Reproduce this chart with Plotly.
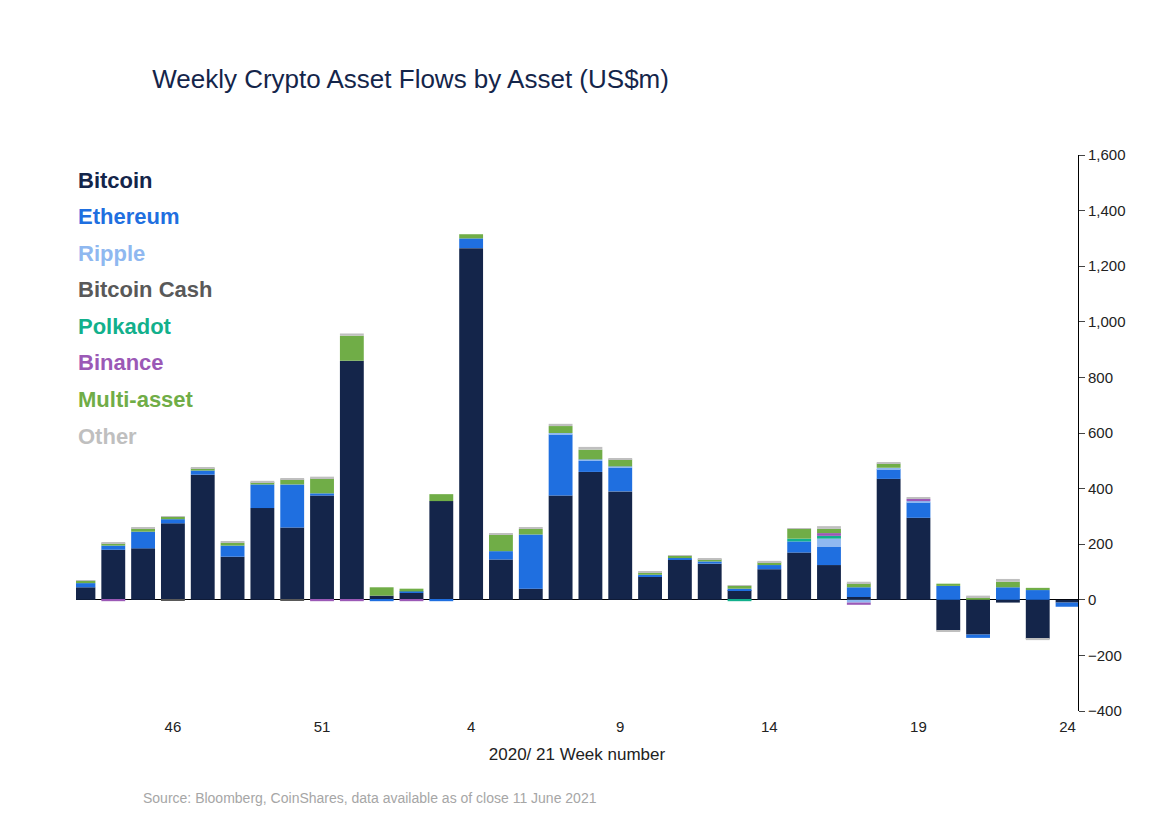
import plotly.graph_objects as go

weeks = ["43", "44", "45", "46", "47", "48", "49", "50", "51", "52", "1", "2", "3", "4", "5", "6", "7",
         "8", "9", "10", "11", "12", "13", "14", "15", "16", "17", "18", "19", "20", "21", "22", "23", "24"]

bitcoin = [45, 180, 185, 275, 450, 155, 330, 260, 375, 860, 15, 25, 355, 1265, 145, 40, 375,
           460, 390, 85, 145, 130, 35, 110, 170, 125, 10, 435, 295, -110, -125, -10, -140, -10]
ethereum = [15, 15, 60, 15, 15, 40, 85, 155, 8, 0, -5, 5, -5, 35, 30, 195, 220,
            40, 85, 5, 5, 8, 5, 15, 40, 65, 35, 35, 55, 50, -12, 45, 35, -15]
ripple = [0, 0, 0, 0, 0, 0, 0, 0, 0, 0, 0, 0, 0, 0, 0, 0, 5,
          5, 5, 0, 0, 0, 0, 0, 0, 30, -10, 5, 5, 0, 0, 0, 0, 0]
bcash = [0, 0, 0, -3, 0, 0, 0, -3, 0, 0, 0, 0, 0, 0, 0, 0, 0,
         0, 0, 0, 0, 0, 0, 0, 0, 0, 0, 0, 0, 0, 0, 0, 0, 0]
polkadot = [0, 0, 0, 0, 0, 0, 0, 0, 0, 0, 0, 0, 0, 0, 0, 0, 0,
            0, 0, 0, 0, 0, -5, 0, 10, 10, 0, 0, 0, 0, 0, 0, 0, 0]
binance = [0, -5, 0, 0, 0, 0, 0, 0, -5, -5, 0, -5, 0, 0, 0, 0, 0,
           0, 0, 0, 0, 0, 0, 0, 0, 10, -8, 0, 8, 0, 0, 0, 0, 0]
multi = [8, 8, 12, 8, 8, 10, 8, 18, 55, 90, 30, 10, 25, 15, 60, 20, 25,
         35, 25, 8, 8, 8, 10, 10, 35, 15, 15, 15, 0, 8, 10, 20, 8, 0]
other = [3, 3, 3, 3, 3, 5, 5, 5, 5, 8, 0, 0, 0, 0, 5, 5, 8,
         10, 5, 3, 3, 3, 3, 5, 3, 10, 5, 5, 5, -5, 5, 10, -5, 0]

series = [("Bitcoin", bitcoin, "#14254A"), ("Ethereum", ethereum, "#1F6FE0"),
          ("Ripple", ripple, "#8FB8F0"), ("Bitcoin Cash", bcash, "#595959"),
          ("Polkadot", polkadot, "#12B08C"), ("Binance", binance, "#9B59B6"),
          ("Multi-asset", multi, "#70AD47"), ("Other", other, "#BFBFBF")]

x = list(range(len(weeks)))
fig = go.Figure()
for name, vals, col in series:
    fig.add_trace(go.Bar(x=x, y=vals, name=name, marker=dict(color=col, line=dict(width=0))))

label_weeks = ["46", "51", "4", "9", "14", "19", "24"]
fig.update_layout(
    barmode="relative", bargap=0.2, width=1172, height=820, showlegend=False,
    plot_bgcolor="white", paper_bgcolor="white",
    font=dict(family="Liberation Sans, Arial", size=15, color="#222"),
    margin=dict(l=68, r=102, t=147, b=117),
    title=dict(text="Weekly Crypto Asset Flows by Asset (US$m)", x=0.123, y=0.925,
               font=dict(size=26, color="#14254A")),
    xaxis=dict(tickvals=[weeks.index(w) for w in label_weeks], ticktext=label_weeks,
               range=[-0.25, 33.35], showgrid=False, showline=False, ticks="",
               title=dict(text="2020/ 21 Week number", font=dict(size=17), standoff=14),
               ticklabelstandoff=5),
    yaxis=dict(side="right", range=[-400, 1600], dtick=200, tickformat=",", showgrid=False,
               zeroline=True, zerolinecolor="black", zerolinewidth=1,
               showline=True, linecolor="black", ticks="outside", ticklen=6),
)
for i, (name, vals, col) in enumerate(series):
    fig.add_annotation(text="<b>" + name + "</b>", x=0.0, xref="paper", xanchor="left",
                       y=0.955 - i * 0.0658, yref="paper", yanchor="middle", showarrow=False,
                       font=dict(size=22, color=col))
fig.add_annotation(text="Source: Bloomberg, CoinShares, data available as of close 11 June 2021",
                   x=0.065, xref="paper", xanchor="left", y=-0.175, yref="paper",
                   showarrow=False, font=dict(size=14, color="#A6A6A6"))
fig.write_html("out.html")
